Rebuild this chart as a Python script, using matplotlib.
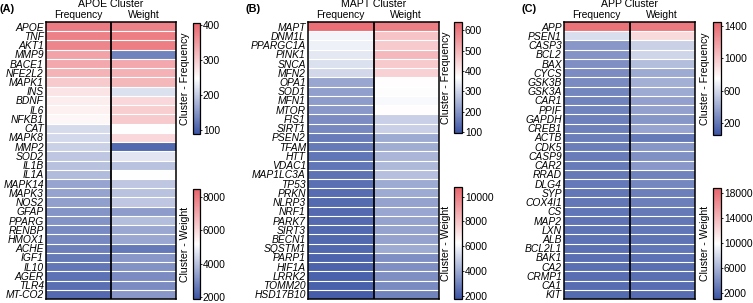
import numpy as np
import matplotlib
matplotlib.use("Agg")
import matplotlib.pyplot as plt
from matplotlib.colors import LinearSegmentedColormap, Normalize
from matplotlib.cm import ScalarMappable

plt.rcParams['font.family'] = ['Liberation Sans', 'DejaVu Sans']

# ---- data ----
genes_a = ['APOE', 'TNF', 'AKT1', 'MMP9', 'BACE1', 'NFE2L2', 'MAPK1', 'INS', 'BDNF', 'IL6',
           'NFKB1', 'CAT', 'MAPK8', 'MMP2', 'SOD2', 'IL1B', 'IL1A', 'MAPK14', 'MAPK3', 'NOS2',
           'GFAP', 'PPARG', 'RENBP', 'HMOX1', 'ACHE', 'IGF1', 'IL10', 'AGER', 'TLR4', 'MT-CO2']
freq_a = [380, 375, 370, 340, 335, 325, 300, 275, 265, 262,
          255, 215, 212, 205, 195, 190, 185, 165, 163, 160,
          150, 148, 140, 138, 130, 125, 122, 118, 115, 110]
weight_a = [7800, 7900, 7900, 2800, 7000, 6800, 6700, 4600, 6000, 6200,
            6300, 5200, 6000, 2300, 4700, 4000, 5200, 4100, 4000, 4100,
            3300, 3900, 3500, 3500, 2600, 3200, 3100, 3000, 3000, 3200]

genes_b = ['MAPT', 'DNM1L', 'PPARGC1A', 'PINK1', 'SNCA', 'MFN2', 'OPA1', 'SOD1', 'MFN1', 'MTOR',
           'FIS1', 'SIRT1', 'PSEN2', 'TFAM', 'HTT', 'VDAC1', 'MAP1LC3A', 'TP53', 'PRKN', 'NLRP3',
           'NRF1', 'PARK7', 'SIRT3', 'BECN1', 'SQSTM1', 'PARP1', 'HIF1A', 'LRRK2', 'TOMM20', 'HSD17B10']
freq_b = [620, 350, 345, 330, 320, 305, 225, 215, 210, 205,
          185, 180, 160, 155, 150, 150, 145, 140, 135, 133,
          130, 130, 128, 125, 125, 122, 120, 118, 115, 112]
weight_b = [10000, 8000, 7800, 8300, 7800, 7600, 6300, 6200, 6100, 6300,
            5000, 5000, 4000, 4100, 4300, 4400, 4600, 4000, 4000, 3800,
            3900, 3800, 3800, 3800, 4000, 3300, 3300, 3300, 3200, 3000]

genes_c = ['APP', 'PSEN1', 'CASP3', 'BCL2', 'BAX', 'CYCS', 'GSK3B', 'GSK3A', 'CAR1', 'PPIF',
           'GAPDH', 'CREB1', 'ACTB', 'CDK5', 'CASP9', 'CAR2', 'RRAD', 'DLG4', 'SYP', 'COX4I1',
           'CS', 'MAP2', 'LXN', 'ALB', 'BCL2L1', 'BAK1', 'CA2', 'CRMP1', 'CA1', 'KIT']
freq_c = [1380, 620, 330, 320, 300, 290, 280, 260, 250, 250,
          240, 240, 230, 230, 220, 215, 210, 205, 200, 200,
          195, 190, 185, 180, 175, 170, 165, 160, 155, 150]
weight_c = [17500, 12000, 7500, 7800, 6500, 5500, 5800, 5500, 5000, 5000,
            4500, 5200, 3000, 4500, 4200, 4600, 3500, 3700, 3300, 3300,
            3000, 2900, 2800, 2700, 2800, 2600, 2500, 2500, 2400, 2300]

freq_lim = [(90, 405), (95, 640), (56, 1450)]
weight_lim = [(1900, 8450), (1740, 10780), (1050, 18740)]
freq_ticks = [[100, 200, 300, 400], [100, 200, 300, 400, 500, 600], [200, 600, 1000, 1400]]
weight_ticks = [[2000, 4000, 6000, 8000], [2000, 4000, 6000, 8000, 10000],
                [2000, 6000, 10000, 14000, 18000]]

cmap = LinearSegmentedColormap.from_list('bwr2', ['#3b54a4', '#ffffff', '#e8646c'])

W, H = 753, 303
fig = plt.figure(figsize=(W / 100, H / 100), dpi=100)


def fx(px):
    return px / W


def fy(top, bottom):
    return (H - bottom) / H, (bottom - top) / H


panels = [
    ('(A)', 'APOE Cluster', genes_a, freq_a, weight_a, 46, 130, 0, 193, 7, (23, 134), (189, 299)),
    ('(B)', 'MAPT Cluster', genes_b, freq_b, weight_b, 308, 131, 246, 454, 8, (22, 133), (187, 299)),
    ('(C)', 'APP Cluster', genes_c, freq_c, weight_c, 564, 131, 521, 713, 8, (22, 135), (188, 299)),
]

for i, (letter, title, genes, freq, weight, hx, hw, lx, cx, cw, fpos, wpos) in enumerate(panels):
    n = len(genes)
    b, h = fy(22, 299)
    ax = fig.add_axes([fx(hx), b, fx(hw), h])
    fnorm = Normalize(*freq_lim[i])
    wnorm = Normalize(*weight_lim[i])
    yedges = np.arange(n + 1)
    ax.pcolormesh([0, 1], yedges, np.array(freq)[:, None], cmap=cmap, norm=fnorm)
    ax.pcolormesh([1, 2], yedges, np.array(weight)[:, None], cmap=cmap, norm=wnorm)
    ax.hlines(np.arange(1, n), 0, 2, colors='white', linewidth=0.8)
    ax.axvline(1, color='black', linewidth=1.3)
    ax.set_xlim(0, 2)
    ax.set_ylim(n, 0)
    ax.set_xticks([])
    ax.set_yticks(np.arange(n) + 0.5)
    ax.set_yticklabels(genes, fontsize=7.4, style='italic')
    ax.tick_params(axis='y', length=0, pad=1.5)
    for s in ax.spines.values():
        s.set_linewidth(1.1)
    ax.text(0.5, 1.066, title, transform=ax.transAxes, ha='center', va='center', fontsize=7.6)
    ax.text(0.25, 1.024, 'Frequency', transform=ax.transAxes, ha='center', va='center', fontsize=7.4)
    ax.text(0.75, 1.024, 'Weight', transform=ax.transAxes, ha='center', va='center', fontsize=7.4)
    fig.text(fx(lx), 1 - 9 / H, letter, ha='left', va='center', fontsize=7.8, fontweight='bold')

    for (top, bot), norm, ticks, lab in [(fpos, fnorm, freq_ticks[i], 'Cluster - Frequency'),
                                          (wpos, wnorm, weight_ticks[i], 'Cluster - Weight')]:
        cb_b, cb_h = fy(top, bot)
        cax = fig.add_axes([fx(cx), cb_b, fx(cw), cb_h])
        cb = fig.colorbar(ScalarMappable(norm=norm, cmap=cmap), cax=cax)
        cb.set_ticks(ticks)
        cb.outline.set_linewidth(0.9)
        cax.tick_params(labelsize=7.4, length=1.5, width=0.6, pad=0.6)
        cax.yaxis.set_label_position('left')
        cax.set_ylabel(lab, fontsize=7.6, labelpad=2)

fig.savefig('out.png', dpi=100)
